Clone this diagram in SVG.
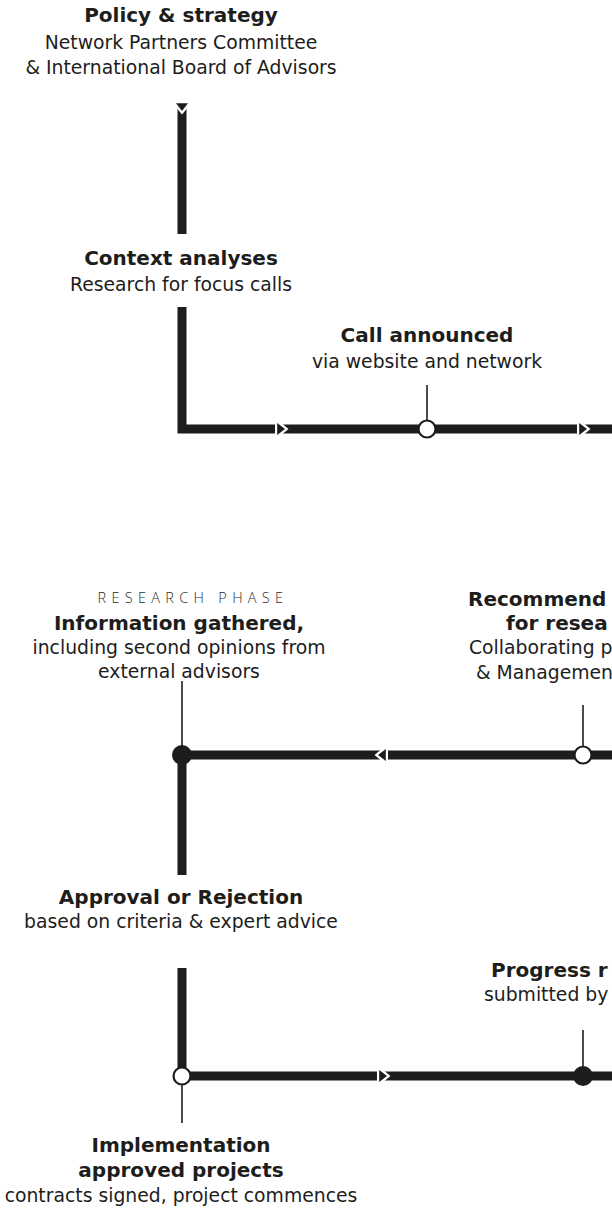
<svg xmlns="http://www.w3.org/2000/svg" xmlns:xlink="http://www.w3.org/1999/xlink" width="612" height="1214" viewBox="0 0 612 1214">
  <style>
    text { font-family: "DejaVu Sans", "Liberation Sans", sans-serif; fill: #1d1d1b; font-size: 18.8px; }
    .h { font-weight: bold; font-size: 20px; }
    .c { text-anchor: middle; }
    .phase { font-family: "Open Sans", "Lato", sans-serif; font-weight: 300; font-size: 14.5px; letter-spacing: 5.3px; fill: #2b2b2b; }
    .track { fill: none; stroke: #1d1d1b; stroke-width: 9; stroke-linejoin: miter; stroke-linecap: butt; }
    .tick { stroke: #1d1d1b; stroke-width: 1.6; }
    .open { fill: #fff; stroke: #1d1d1b; stroke-width: 2.2; }
    .dot { fill: #1d1d1b; }
  </style>
  <defs>
    <!-- direction mark cut into a track: white gap + chevron, black triangle on top -->
    <g id="mark">
      <polygon points="0,-7.5 4.5,-7.5 13.5,0 4.5,7.5 0,7.5" fill="#fff"/>
      <polygon points="2.2,-6 10,0 2.2,6" fill="#1d1d1b"/>
    </g>
  </defs>

  <!-- connectors -->
  <g id="connectors">
    <path class="track" d="M182,103 V234"/>
    <path class="track" d="M182,307 V429 H612"/>
    <path class="track" d="M612,755 H182 V875"/>
    <path class="track" d="M182,968 V1076 H612"/>

    <use xlink:href="#mark" transform="translate(182,101) rotate(90)"/>
    <use xlink:href="#mark" transform="translate(275,429)"/>
    <use xlink:href="#mark" transform="translate(577,429)"/>
    <use xlink:href="#mark" transform="translate(388,755) rotate(180)"/>
    <use xlink:href="#mark" transform="translate(377,1076)"/>

    <line class="tick" x1="427" y1="385" x2="427" y2="421"/>
    <line class="tick" x1="182" y1="681" x2="182" y2="750"/>
    <line class="tick" x1="583" y1="705" x2="583" y2="747"/>
    <line class="tick" x1="583" y1="1030" x2="583" y2="1070"/>
    <line class="tick" x1="182" y1="1084" x2="182" y2="1123"/>
  </g>

  <!-- nodes -->
  <g id="policy">
    <text class="c" x="181" y="22"><tspan class="h">Policy &amp; strategy</tspan><tspan x="181" y="49">Network Partners Committee</tspan><tspan x="181" y="74">&amp; International Board of Advisors</tspan></text>
  </g>

  <g id="context">
    <text class="c" x="181" y="265"><tspan class="h">Context analyses</tspan><tspan x="181" y="291">Research for focus calls</tspan></text>
  </g>

  <g id="call">
    <circle class="open" cx="427" cy="429" r="8.5"/>
    <text class="c" x="427" y="342"><tspan class="h">Call announced</tspan><tspan x="427" y="368">via website and network</tspan></text>
  </g>

  <g id="information">
    <circle class="dot" cx="182" cy="755" r="10"/>
    <text class="c" x="179" y="630"><tspan x="193" y="603" class="phase">RESEARCH PHASE</tspan><tspan x="179" y="630" class="h">Information gathered,</tspan><tspan x="179" y="654">including second opinions from</tspan><tspan x="179" y="678">external advisors</tspan></text>
  </g>

  <g id="recommendation">
    <circle class="open" cx="583" cy="755" r="8.5"/>
    <text x="468" y="606"><tspan class="h">Recommend</tspan><tspan class="h" x="506" y="630">for resea</tspan><tspan x="469" y="654">Collaborating p</tspan><tspan x="476" y="679">&amp; Managemen</tspan></text>
  </g>

  <g id="approval">
    <text class="c" x="181" y="904"><tspan class="h">Approval or Rejection</tspan><tspan x="181" y="928">based on criteria &amp; expert advice</tspan></text>
  </g>

  <g id="progress">
    <circle class="dot" cx="583" cy="1076" r="10"/>
    <text x="491" y="977"><tspan class="h">Progress r</tspan><tspan x="484" y="1001">submitted by</tspan></text>
  </g>

  <g id="implementation">
    <circle class="open" cx="182" cy="1076" r="8.5"/>
    <text class="c" x="181" y="1152"><tspan class="h">Implementation</tspan><tspan class="h" x="181" y="1177">approved projects</tspan><tspan x="181" y="1202">contracts signed, project commences</tspan></text>
  </g>
</svg>
